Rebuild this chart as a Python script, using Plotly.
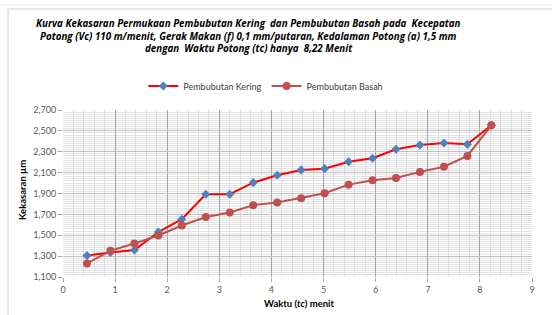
import plotly.graph_objects as go

waktu = [0.46, 0.91, 1.37, 1.83, 2.28, 2.74, 3.20, 3.65, 4.11, 4.57, 5.02, 5.48, 5.94, 6.39, 6.85, 7.31, 7.76, 8.22]
kering = [1305, 1335, 1358, 1530, 1654, 1893, 1893, 2004, 2075, 2126, 2138, 2205, 2238, 2324, 2365, 2384, 2371, 2553]
basah = [1230, 1351, 1421, 1498, 1593, 1674, 1718, 1788, 1813, 1855, 1903, 1985, 2027, 2049, 2107, 2157, 2260, 2553]
y_ticks = [1100, 1300, 1500, 1700, 1900, 2100, 2300, 2500, 2700]
x_ticks = [0, 1, 2, 3, 4, 5, 6, 7, 8, 9]

title_lines = [
    "Kurva Kekasaran Permukaan Pembubutan Kering  dan Pembubutan Basah pada  Kecepatan",
    "Potong (Vc) 110 m/menit, Gerak Makan (f) 0,1 mm/putaran, Kedalaman Potong (a) 1,5 mm",
    "dengan  Waktu Potong (tc) hanya  8,22 Menit",
]

W, H = 552, 315
ML, MR, MT, MB = 63, 19.5, 110, 38
PW = W - ML - MR
PH = H - MT - MB

def px2x(px):
    return (px - ML) / PW

def py2y(py):
    return (H - MB - py) / PH

FONT = "Lato"
TFONT = "Open Sans"

fig = go.Figure()
fig.add_trace(go.Scatter(
    x=waktu, y=kering, name="Pembubutan Kering", mode="lines+markers",
    line=dict(color="#FF0000", width=2),
    marker=dict(symbol="diamond", size=7, color="#4F81BD"),
))
fig.add_trace(go.Scatter(
    x=waktu, y=basah, name="Pembubutan Basah", mode="lines+markers",
    line=dict(color="#C0504D", width=2),
    marker=dict(symbol="circle", size=8, color="#C0504D"),
))

fig.update_layout(
    width=W, height=H,
    margin=dict(l=ML, r=MR, t=MT, b=MB),
    paper_bgcolor="white", plot_bgcolor="white",
    font=dict(family=FONT, size=9, color="#595959"),
    showlegend=True,
    legend=dict(orientation="h", x=px2x(266), xanchor="center", y=py2y(86), yanchor="middle",
                font=dict(family=FONT, size=9, color="#404040"), itemwidth=30,
                tracegroupgap=0, bgcolor="rgba(0,0,0,0)"),
    xaxis=dict(range=[0, 9], tickvals=x_ticks, showgrid=True, gridcolor="#A6A6A6", gridwidth=1,
               minor=dict(dtick=0.2, showgrid=True, gridcolor="#D9D9D9", gridwidth=1),
               zeroline=False, showline=False, ticks="outside", ticklen=4, tickcolor="#A6A6A6",
               tickfont=dict(family=FONT, size=9, color="#595959"), fixedrange=True),
    yaxis=dict(range=[1100, 2700], tickvals=y_ticks, tickformat=",", showgrid=True,
               gridcolor="#BFBFBF", gridwidth=1,
               minor=dict(dtick=20, showgrid=True, gridcolor="#E3E3E3", gridwidth=1),
               zeroline=False, showline=False, ticks="outside", ticklen=4, tickcolor="#A6A6A6",
               tickfont=dict(family=FONT, size=9, color="#595959"), fixedrange=True),
)

ann = []
for i, (t, py) in enumerate(zip(title_lines, [23.5, 36, 48.5])):
    ann.append(dict(text="<b><i>" + t + "</i></b>", x=px2x(249), y=py2y(py), xref="paper", yref="paper",
                    xanchor="center", yanchor="middle", showarrow=False,
                    font=dict(family=TFONT, size=9.8, color="#000000")))
ann.append(dict(text="<b>Waktu (<i>tc</i>) menit</b>", x=px2x(300), y=py2y(303), xref="paper", yref="paper",
                xanchor="center", yanchor="middle", showarrow=False,
                font=dict(family=FONT, size=9.5, color="#000000")))
ann.append(dict(text="<b>Kekasaran µm</b>", x=px2x(22), y=py2y(190), xref="paper", yref="paper",
                xanchor="center", yanchor="middle", showarrow=False, textangle=-90,
                font=dict(family=FONT, size=9.5, color="#000000")))
fig.update_layout(annotations=ann)

fig.add_shape(type="rect", xref="paper", yref="paper",
              x0=px2x(8), x1=px2x(560), y0=py2y(330), y1=py2y(9),
              line=dict(color="#D0D0D0", width=1), fillcolor="rgba(0,0,0,0)", layer="below")
fig.add_shape(type="line", xref="paper", yref="paper",
              x0=px2x(0), x1=px2x(552), y0=py2y(5), y1=py2y(5),
              line=dict(color="#E6E6E6", width=1))

fig.write_html("out.html", config={"displayModeBar": False},
               post_script="document.body.style.margin='0';document.body.style.padding='0';document.body.style.overflow='hidden';")
